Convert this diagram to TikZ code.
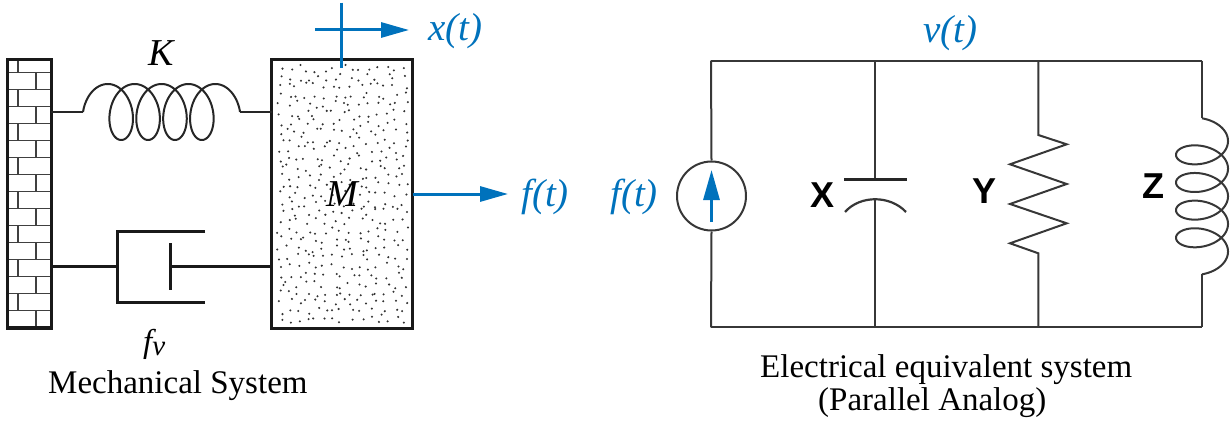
\documentclass[tikz,border=0pt]{standalone}
\usepackage{fontspec}
\setmainfont{Liberation Serif}
\newfontfamily\sansbold{Liberation Sans}[BoldFont={Liberation Sans Bold}]
\usetikzlibrary{arrows.meta}
\definecolor{lblue}{RGB}{0,114,188}
\definecolor{wire}{RGB}{55,55,55}
\tikzset{
  x=1pt,y=-1pt,
  mech/.style={line width=2pt,black!85},
  thickmech/.style={line width=3pt,black!90},
  brick/.style={line width=1.5pt,black!75},
  ckt/.style={line width=2pt,wire},
  bluearrow/.style={line width=3pt,lblue,-{Triangle[length=28pt,width=15pt]}},
  bluelbl/.style={text=lblue,font=\fontsize{39}{44}\selectfont\itshape,inner sep=0pt,anchor=base west},
  captxt/.style={font=\fontsize{33}{40}\selectfont,inner sep=0pt,anchor=base west},
  letter/.style={font=\fontsize{36}{40}\selectfont\sansbold\bfseries,inner sep=0pt,anchor=center},
  symlbl/.style={font=\fontsize{38}{42}\selectfont\itshape,inner sep=0pt,anchor=base},
}
\begin{document}
\begin{tikzpicture}
\useasboundingbox (0,0) rectangle (1231,425);
% ---------- wall ----------
\foreach \k in {0,...,14} {\draw[brick] (7,72.7+17*\k) -- (51,72.7+17*\k);}
\draw[brick] (18,59.3) -- (18,72.7);
\foreach \k in {1,...,15} {
  \pgfmathsetmacro\ya{72.7+17*(\k-1)}
  \pgfmathsetmacro\yb{72.7+17*\k}
  \pgfmathsetmacro\xx{ifthenelse(mod(\k,2)==1,36,18)}
  \draw[brick] (\xx,\ya) -- (\xx,\yb);
}
\draw[thickmech] (7,59.3) rectangle (51,328);
\draw[line width=4pt,black!90] (7,328) -- (51,328);
\coordinate (wallK) at (51,112);
\coordinate (wallD) at (51,266);
% ---------- mass ----------
\node[draw=none,minimum width=141pt,minimum height=268pt,inner sep=0pt] (mass) at (342.2,194) {};
\pgfmathsetseed{11}
\foreach \i in {0,...,14} {
  \foreach \j in {0,...,28} {
    \pgfmathsetmacro\px{280+\i*8.9+rand*3.8}
    \pgfmathsetmacro\py{68.5+\j*9+rand*3.8}
    \fill[black!80] (\px,\py) circle (1.15);
  }
}
\draw[thickmech] (271.7,60) rectangle (412.7,328);
\node[symlbl] (Mlbl) at (342,206) {M};
\coordinate (massK) at (271.7,112);
\coordinate (massD) at (271.7,266);
\coordinate (massR) at (412.7,194);
% ---------- spring ----------
\coordinate (spL) at (83.1,112);
\coordinate (spR) at (239.85,112);
\draw[mech] (wallK) -- (spL);
\draw[mech] plot[domain=pi/2:19*pi/2,samples=500,variable=\t]
  ({94.3+4.28*\t-18*sin(\t r)},{112+28*cos(\t r)});
\draw[mech] (spR) -- (massK);
\node[symlbl] (K) at (161,66) {K};
% ---------- dashpot ----------
\coordinate (dcyl) at (117,266);
\coordinate (dpis) at (170,266);
\draw[thickmech] (wallD) -- (dcyl);
\draw[thickmech] (205,231) -- (117,231) -- (117,302) -- (205,302);
\draw[thickmech] (170,243) -- (170,290);
\draw[thickmech] (dpis) -- (massD);
\node[font=\fontsize{33}{40}\selectfont\itshape,inner sep=0pt,anchor=base west] (fv) at (143,352) {f\raisebox{-3pt}{\fontsize{29}{32}\selectfont v}};
\node[captxt] (mechcap) at (48,393) {Mechanical System};
% ---------- x(t) ----------
\coordinate (xtop) at (341.7,2.7);
\coordinate (xbot) at (341.7,68);
\coordinate (xl) at (315,30);
\coordinate (xr) at (409,30);
\draw[line width=3pt,lblue] (xtop) -- (xbot);
\draw[bluearrow] (xl) -- (xr);
\node[bluelbl] (xt) at (428,41) {x(t)};
% ---------- f(t) ----------
\coordinate (fr) at (508,194);
\draw[bluearrow] (massR) -- (fr);
\node[bluelbl] (ft) at (521,206) {f(t)};
% ---------- circuit ----------
\coordinate (TL) at (711,60.7);
\coordinate (TX) at (875,60.7);
\coordinate (TY) at (1038.3,60.7);
\coordinate (TR) at (1202,60.7);
\coordinate (BL) at (711,327.3);
\coordinate (BX) at (875,327.3);
\coordinate (BY) at (1038.3,327.3);
\coordinate (BR) at (1202,327.3);
\draw[ckt] (TL) -- (TR);
\draw[ckt] (BL) -- (BR);
% source
\node[circle,draw=wire,line width=2pt,minimum size=69pt,inner sep=0pt] (src) at (711.5,196) {};
\draw[ckt] (TL) -- (src.north);
\draw[ckt] (src.south) -- (BL);
\coordinate (sa) at (711.5,222);
\coordinate (sb) at (711.5,170);
\draw[line width=3pt,lblue,-{Triangle[length=30pt,width=16pt]}] (sa) -- (sb);
\node[bluelbl] (ftl) at (610,206) {f(t)};
% capacitor
\coordinate (cTop) at (875,179.3);
\coordinate (cBot) at (875,199.3);
\draw[ckt] (TX) -- (cTop);
\draw[line width=3pt,black!85] (844,179.3) -- (906.7,179.3);
\draw[line width=2.2pt,wire] (845,212) .. controls (860,195) and (890,195) .. (906,212);
\draw[ckt] (cBot) -- (BX);
\node[letter] (X) at (822.5,195) {X};
% resistor
\coordinate (rTop) at (1038.3,135);
\coordinate (rBot) at (1038.3,253.3);
\draw[ckt] (TY) -- (rTop) -- (1066.7,144.3) -- (1010,164.3) -- (1066.7,184) -- (1010,204) -- (1066.7,223.3) -- (1010,243.3) -- (rBot) -- (BY);
\node[letter] (Y) at (984,191.5) {Y};
% inductor
\coordinate (lTop) at (1202,118.3);
\coordinate (lBot) at (1202,274.3);
\draw[ckt] (TR) -- (lTop);
\draw[ckt] plot[domain=pi/2:19*pi/2,samples=500,variable=\t]
  ({1202-26*cos(\t r)},{127.2+4.4*\t-15.8*sin(\t r)});
\draw[ckt] (lBot) -- (BR);
\node[letter] (Z) at (1153,186) {Z};
\node[bluelbl] (vt) at (923,43) {v(t)};
\node[captxt] (ecap1) at (760,377) {Electrical equivalent system};
\node[captxt] (ecap2) at (818,410) {(Parallel Analog)};
\end{tikzpicture}
\end{document}
